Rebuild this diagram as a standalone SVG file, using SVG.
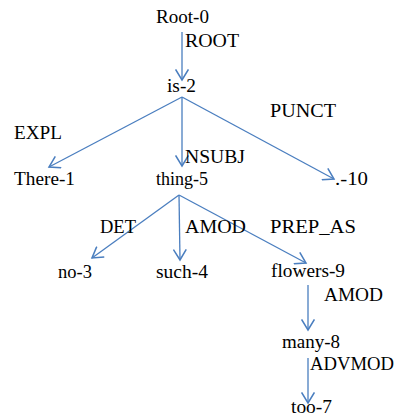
<svg xmlns="http://www.w3.org/2000/svg" width="396" height="419" viewBox="0 0 396 419">
<defs>
<style>
text{font-family:"Liberation Serif","Times New Roman",serif;font-size:18px;fill:#000}
.c line{stroke:#4a7ebf;stroke-width:1.3}
</style>
<marker id="a" markerWidth="14" markerHeight="14" refX="10" refY="6" orient="auto" markerUnits="userSpaceOnUse" viewBox="0 0 12 12">
<path d="M1,0.5 L10,6 L1,11.5" fill="none" stroke="#4a7ebf" stroke-width="1.3"/>
</marker>
</defs>
<rect width="396" height="419" fill="#fff"/>
<g id="connectors" class="c">
<line x1="182" y1="32" x2="182" y2="80" marker-end="url(#a)"/>
<line x1="182" y1="97" x2="49" y2="167" marker-end="url(#a)"/>
<line x1="182" y1="97" x2="182" y2="166" marker-end="url(#a)"/>
<line x1="182" y1="97" x2="334" y2="179" marker-end="url(#a)"/>
<line x1="179" y1="195" x2="92" y2="258" marker-end="url(#a)"/>
<line x1="179" y1="195" x2="180" y2="260" marker-end="url(#a)"/>
<line x1="179" y1="195" x2="306" y2="263" marker-end="url(#a)"/>
<line x1="308" y1="285" x2="308" y2="330" marker-end="url(#a)"/>
<line x1="308" y1="358" x2="308" y2="403" marker-end="url(#a)"/>
</g>
<g id="labels">
<text x="185" y="47" textLength="54" lengthAdjust="spacingAndGlyphs">ROOT</text>
<text x="14" y="139" textLength="48" lengthAdjust="spacingAndGlyphs">EXPL</text>
<text x="185" y="163" textLength="60" lengthAdjust="spacingAndGlyphs">NSUBJ</text>
<text x="270" y="117" textLength="66" lengthAdjust="spacingAndGlyphs">PUNCT</text>
<text x="100" y="233" textLength="36" lengthAdjust="spacingAndGlyphs">DET</text>
<text x="185" y="233" textLength="61" lengthAdjust="spacingAndGlyphs">AMOD</text>
<text x="270" y="233" textLength="86" lengthAdjust="spacingAndGlyphs">PREP_AS</text>
<text x="324" y="301" textLength="59" lengthAdjust="spacingAndGlyphs">AMOD</text>
<text x="310" y="370" textLength="84" lengthAdjust="spacingAndGlyphs">ADVMOD</text>
</g>
<g id="root0"><text x="156" y="23" textLength="53" lengthAdjust="spacingAndGlyphs">Root-0</text></g>
<g id="is2"><text x="167" y="92" textLength="29" lengthAdjust="spacingAndGlyphs">is-2</text></g>
<g id="there1"><text x="14" y="185" textLength="61" lengthAdjust="spacingAndGlyphs">There-1</text></g>
<g id="thing5"><text x="156" y="185" textLength="52" lengthAdjust="spacingAndGlyphs">thing-5</text></g>
<g id="dot10"><text x="335" y="185" textLength="33" lengthAdjust="spacingAndGlyphs">.-10</text></g>
<g id="no3"><text x="58" y="278" textLength="34" lengthAdjust="spacingAndGlyphs">no-3</text></g>
<g id="such4"><text x="156" y="278" textLength="52" lengthAdjust="spacingAndGlyphs">such-4</text></g>
<g id="flowers9"><text x="271" y="277" textLength="74" lengthAdjust="spacingAndGlyphs">flowers-9</text></g>
<g id="many8"><text x="282" y="348" textLength="58" lengthAdjust="spacingAndGlyphs">many-8</text></g>
<g id="too7"><text x="291" y="413" textLength="41" lengthAdjust="spacingAndGlyphs">too-7</text></g>
</svg>
